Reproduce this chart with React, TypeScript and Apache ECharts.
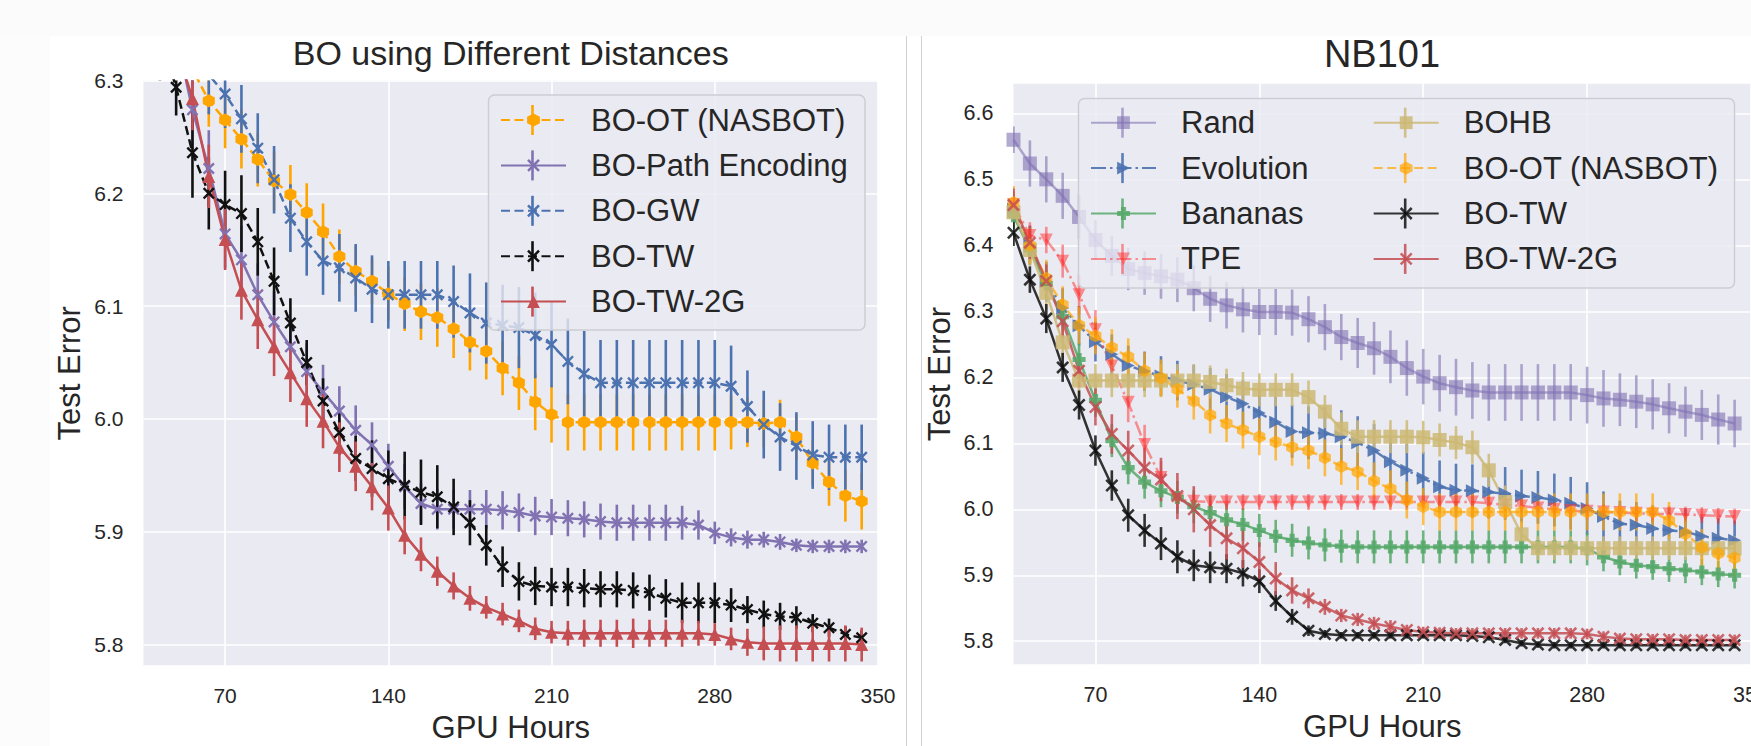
import React, { useEffect, useRef } from 'react';
import * as echarts from 'echarts';

const FONT = '"Liberation Sans", Arial, Helvetica, sans-serif';
const TXT = '#262626';

// ---------------- data: left panel "BO using Different Distances" ----------------
const X_LEFT = [42, 49, 56, 63, 70, 77, 84, 91, 98, 105, 112, 119, 126, 133, 140, 147, 154, 161, 168, 175, 182, 189, 196, 203, 210, 217, 224, 231, 238, 245, 252, 259, 266, 273, 280, 287, 294, 301, 308, 315, 322, 329, 336, 343];

const L_OT = [6.37, 6.34, 6.31, 6.282, 6.265, 6.248, 6.23, 6.211, 6.199, 6.183, 6.166, 6.144, 6.131, 6.122, 6.111, 6.102, 6.095, 6.09, 6.08, 6.068, 6.06, 6.045, 6.032, 6.015, 6.004, 5.997, 5.997, 5.997, 5.997, 5.997, 5.997, 5.997, 5.997, 5.997, 5.997, 5.997, 5.997, 5.996, 5.997, 5.984, 5.961, 5.944, 5.932, 5.927];
const L_OT_E = [0.03, 0.03, 0.026, 0.023, 0.025, 0.026, 0.024, 0.026, 0.026, 0.026, 0.025, 0.024, 0.022, 0.02, 0.024, 0.024, 0.025, 0.026, 0.026, 0.025, 0.025, 0.024, 0.024, 0.025, 0.025, 0.025, 0.025, 0.025, 0.025, 0.025, 0.025, 0.025, 0.025, 0.025, 0.025, 0.024, 0.022, 0.021, 0.02, 0.02, 0.02, 0.021, 0.023, 0.025];

const L_PE = [6.38, 6.34, 6.274, 6.222, 6.164, 6.141, 6.11, 6.086, 6.064, 6.042, 6.024, 6.007, 5.99, 5.977, 5.958, 5.94, 5.925, 5.92, 5.92, 5.92, 5.92, 5.919, 5.917, 5.914, 5.913, 5.912, 5.911, 5.909, 5.908, 5.908, 5.908, 5.908, 5.908, 5.906, 5.899, 5.895, 5.893, 5.893, 5.891, 5.888, 5.887, 5.887, 5.887, 5.887];
const L_PE_E = [0.04, 0.035, 0.035, 0.034, 0.03, 0.03, 0.028, 0.027, 0.025, 0.025, 0.024, 0.022, 0.022, 0.02, 0.02, 0.02, 0.018, 0.018, 0.017, 0.017, 0.017, 0.017, 0.017, 0.017, 0.016, 0.016, 0.016, 0.016, 0.016, 0.016, 0.016, 0.016, 0.015, 0.013, 0.01, 0.008, 0.008, 0.007, 0.007, 0.006, 0.006, 0.006, 0.006, 0.006];

const L_GW = [6.4, 6.37, 6.335, 6.305, 6.288, 6.266, 6.24, 6.212, 6.178, 6.157, 6.14, 6.134, 6.125, 6.115, 6.11, 6.11, 6.11, 6.11, 6.104, 6.094, 6.085, 6.083, 6.081, 6.074, 6.066, 6.051, 6.04, 6.032, 6.032, 6.032, 6.032, 6.032, 6.032, 6.032, 6.032, 6.029, 6.011, 5.995, 5.984, 5.976, 5.968, 5.966, 5.966, 5.966];
const L_GW_E = [0.04, 0.04, 0.04, 0.035, 0.03, 0.03, 0.031, 0.03, 0.03, 0.03, 0.03, 0.03, 0.03, 0.03, 0.03, 0.03, 0.03, 0.03, 0.032, 0.035, 0.036, 0.036, 0.036, 0.038, 0.038, 0.038, 0.038, 0.038, 0.038, 0.038, 0.038, 0.038, 0.038, 0.038, 0.038, 0.036, 0.032, 0.03, 0.03, 0.03, 0.03, 0.029, 0.029, 0.029];

const L_TW = [6.34, 6.294, 6.236, 6.2, 6.19, 6.182, 6.157, 6.122, 6.085, 6.05, 6.016, 5.988, 5.965, 5.956, 5.947, 5.941, 5.935, 5.931, 5.922, 5.908, 5.888, 5.869, 5.856, 5.852, 5.851, 5.851, 5.85, 5.849, 5.849, 5.848, 5.846, 5.841, 5.837, 5.837, 5.837, 5.835, 5.831, 5.827, 5.825, 5.824, 5.819, 5.815, 5.809, 5.806];
const L_TW_E = [0.04, 0.025, 0.04, 0.032, 0.03, 0.034, 0.03, 0.03, 0.022, 0.02, 0.02, 0.02, 0.02, 0.025, 0.025, 0.03, 0.029, 0.028, 0.025, 0.02, 0.018, 0.018, 0.017, 0.017, 0.017, 0.017, 0.017, 0.016, 0.016, 0.016, 0.016, 0.017, 0.018, 0.018, 0.018, 0.015, 0.012, 0.012, 0.012, 0.01, 0.008, 0.008, 0.007, 0.007];

const L_TW2G = [6.38, 6.33, 6.284, 6.215, 6.159, 6.114, 6.088, 6.064, 6.041, 6.018, 5.998, 5.975, 5.958, 5.94, 5.921, 5.897, 5.88, 5.865, 5.852, 5.841, 5.833, 5.827, 5.821, 5.814, 5.811, 5.81, 5.81, 5.81, 5.81, 5.81, 5.81, 5.81, 5.81, 5.81, 5.809, 5.805, 5.802, 5.801, 5.801, 5.801, 5.801, 5.801, 5.801, 5.8];
const L_TW2G_E = [0.03, 0.03, 0.028, 0.028, 0.027, 0.026, 0.026, 0.026, 0.026, 0.025, 0.024, 0.022, 0.022, 0.021, 0.02, 0.017, 0.015, 0.013, 0.012, 0.011, 0.01, 0.01, 0.01, 0.01, 0.01, 0.011, 0.012, 0.012, 0.012, 0.013, 0.012, 0.012, 0.012, 0.011, 0.01, 0.01, 0.012, 0.015, 0.016, 0.016, 0.016, 0.016, 0.016, 0.015];

// ---------------- data: right panel "NB101" ----------------
const X_RIGHT = [35, 42, 49, 56, 63, 70, 77, 84, 91, 98, 105, 112, 119, 126, 133, 140, 147, 154, 161, 168, 175, 182, 189, 196, 203, 210, 217, 224, 231, 238, 245, 252, 259, 266, 273, 280, 287, 294, 301, 308, 315, 322, 329, 336, 343];

const R_RAND = [6.56, 6.524, 6.5, 6.475, 6.443, 6.408, 6.384, 6.364, 6.358, 6.353, 6.348, 6.335, 6.319, 6.309, 6.303, 6.299, 6.299, 6.298, 6.288, 6.276, 6.261, 6.252, 6.244, 6.231, 6.214, 6.201, 6.191, 6.185, 6.18, 6.177, 6.177, 6.177, 6.177, 6.177, 6.177, 6.173, 6.168, 6.166, 6.163, 6.159, 6.153, 6.148, 6.143, 6.136, 6.13];
const R_RAND_E = [0.02, 0.035, 0.035, 0.035, 0.033, 0.03, 0.03, 0.032, 0.033, 0.034, 0.034, 0.035, 0.035, 0.035, 0.035, 0.035, 0.035, 0.035, 0.035, 0.035, 0.035, 0.038, 0.04, 0.04, 0.042, 0.042, 0.043, 0.043, 0.043, 0.043, 0.043, 0.043, 0.043, 0.043, 0.043, 0.043, 0.043, 0.04, 0.04, 0.038, 0.038, 0.038, 0.038, 0.038, 0.036];

const R_EVO = [6.455, 6.4, 6.345, 6.305, 6.278, 6.254, 6.235, 6.218, 6.209, 6.202, 6.195, 6.189, 6.182, 6.17, 6.16, 6.146, 6.132, 6.118, 6.116, 6.115, 6.11, 6.101, 6.089, 6.072, 6.059, 6.047, 6.034, 6.029, 6.028, 6.026, 6.024, 6.02, 6.018, 6.014, 6.009, 6.001, 5.989, 5.978, 5.976, 5.971, 5.968, 5.966, 5.959, 5.956, 5.953];
const R_EVO_E = [0.025, 0.03, 0.03, 0.03, 0.03, 0.03, 0.03, 0.03, 0.03, 0.03, 0.03, 0.03, 0.032, 0.035, 0.035, 0.035, 0.038, 0.04, 0.04, 0.04, 0.04, 0.04, 0.04, 0.04, 0.04, 0.04, 0.04, 0.04, 0.04, 0.04, 0.04, 0.04, 0.04, 0.04, 0.04, 0.04, 0.038, 0.035, 0.035, 0.035, 0.035, 0.035, 0.03, 0.03, 0.03];

const R_BAN = [6.445, 6.393, 6.342, 6.292, 6.227, 6.165, 6.104, 6.063, 6.041, 6.028, 6.018, 6.004, 5.995, 5.984, 5.977, 5.968, 5.959, 5.953, 5.949, 5.946, 5.944, 5.943, 5.943, 5.943, 5.943, 5.943, 5.943, 5.943, 5.943, 5.943, 5.943, 5.943, 5.943, 5.943, 5.943, 5.94, 5.928, 5.92, 5.915, 5.913, 5.91, 5.908, 5.905, 5.902, 5.9];
const R_BAN_E = [0.02, 0.02, 0.02, 0.022, 0.025, 0.025, 0.025, 0.025, 0.025, 0.025, 0.025, 0.025, 0.025, 0.025, 0.025, 0.025, 0.025, 0.025, 0.025, 0.025, 0.025, 0.025, 0.025, 0.025, 0.025, 0.025, 0.025, 0.025, 0.025, 0.025, 0.025, 0.025, 0.025, 0.025, 0.025, 0.025, 0.022, 0.02, 0.02, 0.02, 0.02, 0.02, 0.02, 0.02, 0.02];

const R_TPE = [6.462, 6.415, 6.408, 6.376, 6.325, 6.272, 6.217, 6.162, 6.098, 6.048, 6.015, 6.012, 6.011, 6.011, 6.011, 6.011, 6.011, 6.011, 6.011, 6.011, 6.011, 6.011, 6.011, 6.011, 6.011, 6.011, 6.011, 6.011, 6.011, 6.009, 6.007, 6.005, 6.002, 6.0, 5.998, 5.997, 5.996, 5.995, 5.994, 5.993, 5.993, 5.992, 5.991, 5.99, 5.989];
const R_TPE_E = [0.02, 0.02, 0.02, 0.025, 0.03, 0.03, 0.03, 0.03, 0.03, 0.025, 0.015, 0.012, 0.012, 0.012, 0.012, 0.012, 0.012, 0.012, 0.012, 0.012, 0.012, 0.012, 0.012, 0.012, 0.012, 0.012, 0.012, 0.012, 0.012, 0.012, 0.012, 0.012, 0.012, 0.012, 0.012, 0.012, 0.012, 0.012, 0.012, 0.012, 0.012, 0.012, 0.012, 0.012, 0.012];

const R_BOHB = [6.45, 6.393, 6.328, 6.253, 6.195, 6.195, 6.195, 6.195, 6.195, 6.195, 6.195, 6.195, 6.193, 6.188, 6.183, 6.181, 6.181, 6.181, 6.17, 6.148, 6.122, 6.11, 6.11, 6.11, 6.11, 6.109, 6.105, 6.101, 6.094, 6.059, 6.011, 5.962, 5.941, 5.941, 5.941, 5.941, 5.941, 5.941, 5.941, 5.941, 5.941, 5.941, 5.941, 5.941, 5.941];
const R_BOHB_E = [0.02, 0.025, 0.025, 0.025, 0.025, 0.025, 0.025, 0.025, 0.025, 0.025, 0.025, 0.025, 0.025, 0.025, 0.025, 0.025, 0.025, 0.025, 0.025, 0.025, 0.025, 0.025, 0.025, 0.025, 0.025, 0.025, 0.025, 0.025, 0.025, 0.025, 0.025, 0.02, 0.018, 0.018, 0.018, 0.018, 0.018, 0.018, 0.018, 0.018, 0.018, 0.018, 0.018, 0.018, 0.018];

const R_OT = [6.465, 6.4, 6.35, 6.31, 6.279, 6.263, 6.245, 6.231, 6.21, 6.199, 6.182, 6.164, 6.143, 6.13, 6.12, 6.11, 6.102, 6.094, 6.089, 6.078, 6.065, 6.057, 6.043, 6.031, 6.014, 6.004, 5.996, 5.996, 5.996, 5.996, 5.996, 5.996, 5.996, 5.996, 5.996, 5.996, 5.996, 5.996, 5.996, 5.996, 5.983, 5.963, 5.942, 5.933, 5.926];
const R_OT_E = [0.025, 0.028, 0.028, 0.028, 0.028, 0.028, 0.028, 0.028, 0.028, 0.028, 0.028, 0.028, 0.028, 0.028, 0.028, 0.028, 0.028, 0.028, 0.028, 0.028, 0.028, 0.028, 0.028, 0.028, 0.028, 0.028, 0.028, 0.028, 0.028, 0.028, 0.028, 0.028, 0.028, 0.028, 0.028, 0.028, 0.028, 0.028, 0.028, 0.028, 0.028, 0.028, 0.028, 0.028, 0.028];

const R_TW = [6.419, 6.348, 6.289, 6.215, 6.158, 6.089, 6.036, 5.991, 5.968, 5.948, 5.928, 5.915, 5.912, 5.91, 5.903, 5.891, 5.861, 5.837, 5.816, 5.811, 5.809, 5.809, 5.809, 5.809, 5.809, 5.809, 5.809, 5.809, 5.808, 5.806, 5.802, 5.797, 5.795, 5.794, 5.794, 5.794, 5.794, 5.794, 5.794, 5.794, 5.794, 5.794, 5.794, 5.794, 5.794];
const R_TW_E = [0.02, 0.02, 0.022, 0.022, 0.022, 0.023, 0.023, 0.025, 0.025, 0.025, 0.025, 0.024, 0.024, 0.022, 0.02, 0.018, 0.015, 0.012, 0.008, 0.006, 0.005, 0.005, 0.005, 0.005, 0.005, 0.005, 0.005, 0.005, 0.005, 0.005, 0.005, 0.005, 0.005, 0.005, 0.005, 0.005, 0.005, 0.005, 0.005, 0.005, 0.005, 0.005, 0.005, 0.005, 0.005];

const R_TW2G = [6.461, 6.404, 6.346, 6.285, 6.21, 6.155, 6.114, 6.089, 6.063, 6.045, 6.02, 6.0, 5.976, 5.956, 5.941, 5.92, 5.895, 5.877, 5.865, 5.852, 5.839, 5.833, 5.827, 5.822, 5.817, 5.814, 5.813, 5.812, 5.812, 5.812, 5.812, 5.812, 5.812, 5.812, 5.812, 5.811, 5.807, 5.804, 5.803, 5.803, 5.803, 5.802, 5.802, 5.802, 5.802];
const R_TW2G_E = [0.025, 0.025, 0.025, 0.025, 0.025, 0.028, 0.03, 0.03, 0.03, 0.033, 0.035, 0.035, 0.033, 0.032, 0.03, 0.03, 0.025, 0.02, 0.015, 0.012, 0.01, 0.01, 0.01, 0.01, 0.008, 0.008, 0.008, 0.008, 0.008, 0.008, 0.008, 0.008, 0.008, 0.008, 0.008, 0.008, 0.008, 0.008, 0.008, 0.008, 0.008, 0.008, 0.008, 0.008, 0.008];

// tick labels
const X_TICKS = [70, 140, 210, 280, 350];

// ---------------- styling ----------------
const HEX = 'path://M0,-1L0.866,-0.5L0.866,0.5L0,1L-0.866,0.5L-0.866,-0.5Z';
const XMARK = 'path://M0,0.14L0.36,0.5L0,0.86L0.14,1L0.5,0.64L0.86,1L1,0.86L0.64,0.5L1,0.14L0.86,0L0.5,0.36L0.14,0Z';
const TRI_R = 'path://M0,0L1,0.5L0,1Z';
const TRI_D = 'path://M0,0L1,0L0.5,1Z';
const PLUS = 'path://M0.3,0L0.7,0L0.7,0.3L1,0.3L1,0.7L0.7,0.7L0.7,1L0.3,1L0.3,0.7L0,0.7L0,0.3L0.3,0.3Z';

const DASH = [9, 4.5];
const DASHDOT = [15, 4, 2.5, 4];

type Spec = {
  name: string; xs: number[]; ys: number[]; es: number[]; color: string;
  symbol: string; size: number | number[]; dash: any; opacity: number; grid: number;
};

const LEFT_SPECS: Spec[] = [
  { name: 'BO-OT (NASBOT)', xs: X_LEFT, ys: L_OT, es: L_OT_E, color: '#FFA500', symbol: HEX, size: [12, 13], dash: DASH, opacity: 1, grid: 0 },
  { name: 'BO-Path Encoding', xs: X_LEFT, ys: L_PE, es: L_PE_E, color: '#8172B2', symbol: XMARK, size: 12, dash: 'solid', opacity: 1, grid: 0 },
  { name: 'BO-GW', xs: X_LEFT, ys: L_GW, es: L_GW_E, color: '#4C72B0', symbol: XMARK, size: 12, dash: DASH, opacity: 1, grid: 0 },
  { name: 'BO-TW', xs: X_LEFT, ys: L_TW, es: L_TW_E, color: '#111111', symbol: XMARK, size: 12, dash: DASH, opacity: 1, grid: 0 },
  { name: 'BO-TW-2G', xs: X_LEFT, ys: L_TW2G, es: L_TW2G_E, color: '#C44E52', symbol: 'triangle', size: 13, dash: 'solid', opacity: 1, grid: 0 },
];

const RIGHT_SPECS: Spec[] = [
  { name: 'Rand|r', xs: X_RIGHT, ys: R_RAND, es: R_RAND_E, color: '#8172B2', symbol: 'rect', size: 14, dash: 'solid', opacity: 0.6, grid: 1 },
  { name: 'Evolution|r', xs: X_RIGHT, ys: R_EVO, es: R_EVO_E, color: '#4C72B0', symbol: TRI_R, size: 13, dash: DASHDOT, opacity: 0.9, grid: 1 },
  { name: 'Bananas|r', xs: X_RIGHT, ys: R_BAN, es: R_BAN_E, color: '#55A868', symbol: PLUS, size: 13, dash: 'solid', opacity: 0.85, grid: 1 },
  { name: 'TPE|r', xs: X_RIGHT, ys: R_TPE, es: R_TPE_E, color: '#FF2E2E', symbol: TRI_D, size: 13, dash: DASHDOT, opacity: 0.5, grid: 1 },
  { name: 'BOHB|r', xs: X_RIGHT, ys: R_BOHB, es: R_BOHB_E, color: '#CCB974', symbol: 'rect', size: 14, dash: 'solid', opacity: 0.85, grid: 1 },
  { name: 'BO-OT (NASBOT)|r', xs: X_RIGHT, ys: R_OT, es: R_OT_E, color: '#FFA500', symbol: HEX, size: [12, 13], dash: DASH, opacity: 0.7, grid: 1 },
  { name: 'BO-TW|r', xs: X_RIGHT, ys: R_TW, es: R_TW_E, color: '#111111', symbol: XMARK, size: 13, dash: 'solid', opacity: 0.85, grid: 1 },
  { name: 'BO-TW-2G|r', xs: X_RIGHT, ys: R_TW2G, es: R_TW2G_E, color: '#C44E52', symbol: XMARK, size: 13, dash: 'solid', opacity: 0.85, grid: 1 },
];

function errSeries(s: Spec) {
  return {
    type: 'custom',
    name: s.name + ' err',
    xAxisIndex: s.grid,
    yAxisIndex: s.grid,
    clip: true,
    silent: true,
    z: 2,
    data: s.xs.map((x, i) => [x, s.ys[i] - s.es[i], s.ys[i] + s.es[i]]),
    encode: { x: 0, y: [1, 2] },
    renderItem: (_p: any, api: any) => {
      const a = api.coord([api.value(0), api.value(1)]);
      const b = api.coord([api.value(0), api.value(2)]);
      return {
        type: 'line',
        shape: { x1: a[0], y1: a[1], x2: b[0], y2: b[1] },
        style: { stroke: s.color, lineWidth: 2.6, opacity: s.opacity },
      };
    },
  };
}

function lineSeries(s: Spec) {
  return {
    type: 'line',
    name: s.name,
    xAxisIndex: s.grid,
    yAxisIndex: s.grid,
    data: s.xs.map((x, i) => [x, s.ys[i]]),
    symbol: s.symbol,
    symbolSize: s.size,
    showSymbol: true,
    showAllSymbol: true,
    clip: true,
    z: 2,
    lineStyle: { color: s.color, width: 2.5, type: s.dash, opacity: s.opacity },
    itemStyle: { color: s.color, opacity: s.opacity, borderWidth: 0 },
    emphasis: { disabled: true },
  };
}

function xAxis(gridIndex: number, fontSize: number) {
  return {
    type: 'value', gridIndex, min: 35, max: 350, interval: 35,
    name: 'GPU Hours', nameLocation: 'middle', nameGap: 46,
    nameTextStyle: { fontSize: 31, color: TXT, fontFamily: FONT },
    axisLine: { show: false }, axisTick: { show: false },
    axisLabel: {
      fontSize, color: TXT, fontFamily: FONT, margin: 19,
      formatter: (v: number) => (X_TICKS.indexOf(Math.round(v)) >= 0 ? String(Math.round(v)) : ''),
    },
    splitLine: { show: true, lineStyle: { color: ['rgba(255,255,255,0)', '#ffffff'], width: 1.6 } },
  };
}

function yAxis(gridIndex: number, min: number, max: number, splitNumber: number, fontSize: number) {
  return {
    type: 'value', gridIndex, min, max, splitNumber,
    name: 'Test Error', nameLocation: 'middle', nameGap: 59,
    nameTextStyle: { fontSize: 31, color: TXT, fontFamily: FONT },
    axisLine: { show: false }, axisTick: { show: false },
    axisLabel: {
      fontSize, color: TXT, fontFamily: FONT, margin: 20,
      formatter: (v: number) => (Math.abs(v * 10 - Math.round(v * 10)) < 1e-6 ? v.toFixed(1) : ''),
    },
    splitLine: { show: true, lineStyle: { color: '#ffffff', width: 1.6 } },
  };
}

// legend layout
const LEG_ROW = 34;
const LEG_GAP = 11.4;
const LEG_ICON_W = 65;
const LEG_L = { left: 500, top: 103 };
const LEG_R1 = { left: 1090, top: 105.7 };
const LEG_R2 = { left: 1372.7, top: 105.7 };

function legendBlock(names: string[], pos: { left: number; top: number }) {
  return {
    data: names,
    orient: 'vertical',
    left: pos.left,
    top: pos.top,
    padding: 0,
    itemGap: LEG_GAP,
    itemWidth: LEG_ICON_W,
    itemHeight: 16,
    selectedMode: false,
    z: 10,
    formatter: (n: string) => n.split('|')[0],
    textStyle: { fontSize: 31, color: TXT, fontFamily: FONT, lineHeight: LEG_ROW, padding: [0, 0, 0, 20] },
  };
}

function legendTicks(specs: Spec[], pos: { left: number; top: number }) {
  return specs.map((s, i) => {
    const cx = pos.left + LEG_ICON_W / 2;
    const cy = pos.top + LEG_ROW / 2 + i * (LEG_ROW + LEG_GAP);
    return {
      type: 'line', z: 11, silent: true,
      shape: { x1: cx, y1: cy - 15, x2: cx, y2: cy + 15 },
      style: { stroke: s.color, lineWidth: 2.6, opacity: s.opacity },
    };
  });
}

export default function App() {
  const ref = useRef<HTMLDivElement>(null);
  useEffect(() => {
    if (!ref.current) return;
    const chart = echarts.init(ref.current, null, { renderer: 'svg' });
    const series: any[] = [];
    [...LEFT_SPECS, ...RIGHT_SPECS].forEach((s) => {
      series.push(errSeries(s));
      series.push(lineSeries(s));
    });
    const option: any = {
      animation: false,
      backgroundColor: '#ffffff',
      textStyle: { fontFamily: FONT },
      title: [
        { text: 'BO using Different Distances', left: 510.7, top: 36, textAlign: 'center', padding: 0, textStyle: { fontSize: 34, fontWeight: 'normal', color: TXT, fontFamily: FONT } },
        { text: 'NB101', left: 1382, top: 35, textAlign: 'center', padding: 0, textStyle: { fontSize: 38, fontWeight: 'normal', color: TXT, fontFamily: FONT } },
      ],
      grid: [
        { left: 143.5, top: 80.5, width: 734.5, height: 585.5, show: true, backgroundColor: '#EAEAF2', borderWidth: 0, containLabel: false, outerBoundsMode: 'none' },
        { left: 1013.5, top: 83, width: 737.5, height: 582, show: true, backgroundColor: '#EAEAF2', borderWidth: 0, containLabel: false, outerBoundsMode: 'none' },
      ],
      xAxis: [xAxis(0, 21), xAxis(1, 21.5)],
      yAxis: [yAxis(0, 5.781, 6.3, 5, 21), yAxis(1, 5.764, 6.646, 9, 21.5)],
      legend: [
        legendBlock(LEFT_SPECS.map((s) => s.name), LEG_L),
        legendBlock(RIGHT_SPECS.slice(0, 4).map((s) => s.name), LEG_R1),
        legendBlock(RIGHT_SPECS.slice(4).map((s) => s.name), LEG_R2),
      ],
      graphic: [
        { type: 'rect', z: 0, silent: true, shape: { x: 0, y: 0, width: 1751, height: 36 }, style: { fill: '#fbfbfb' } },
        { type: 'rect', z: 0, silent: true, shape: { x: 0, y: 36, width: 50, height: 710 }, style: { fill: '#fcfcfc' } },
        { type: 'line', z: 1, silent: true, shape: { x1: 906.5, y1: 36, x2: 906.5, y2: 746 }, style: { stroke: '#d2d2d2', lineWidth: 1 } },
        { type: 'line', z: 1, silent: true, shape: { x1: 921.5, y1: 36, x2: 921.5, y2: 746 }, style: { stroke: '#d2d2d2', lineWidth: 1 } },
        { type: 'rect', z: 5, silent: true, shape: { x: 488.5, y: 95, width: 376.5, height: 235, r: 6 }, style: { fill: 'rgba(234,234,242,0.8)', stroke: '#cdcdd3', lineWidth: 1.5 } },
        { type: 'rect', z: 5, silent: true, shape: { x: 1078.5, y: 98.5, width: 656, height: 189.5, r: 6 }, style: { fill: 'rgba(234,234,242,0.8)', stroke: '#cdcdd3', lineWidth: 1.5 } },
        ...legendTicks(LEFT_SPECS, LEG_L),
        ...legendTicks(RIGHT_SPECS.slice(0, 4), LEG_R1),
        ...legendTicks(RIGHT_SPECS.slice(4), LEG_R2),
      ],
      series,
    };
    chart.setOption(option);
    return () => chart.dispose();
  }, []);
  return (
    <div
      ref={ref}
      style={{ position: 'fixed', left: 0, top: 0, width: 1751, height: 746, background: '#ffffff' }}
    />
  );
}
